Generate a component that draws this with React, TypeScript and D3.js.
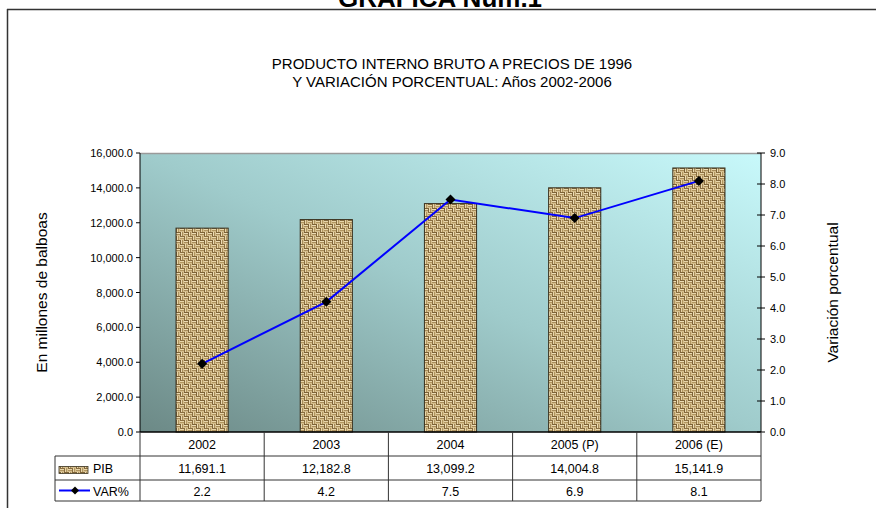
import React from "react";
import * as d3 from "d3";

const categories = ["2002", "2003", "2004", "2005 (P)", "2006 (E)"];
const pib = [11691.1, 12182.8, 13099.2, 14004.8, 15141.9];
const varPct = [2.2, 4.2, 7.5, 6.9, 8.1];
const leftTicks = [0, 2000, 4000, 6000, 8000, 10000, 12000, 14000, 16000];
const rightTicks = [0, 1, 2, 3, 4, 5, 6, 7, 8, 9];

const W = 876;
const H = 508;
const PL = 140, PR = 761, PT = 153, PB = 432;
const FONT = "Liberation Sans, Arial, sans-serif";

export default function App() {
  const x = d3.scaleBand<string>().domain(categories).range([PL, PR]).paddingInner(0).paddingOuter(0);
  const yL = d3.scaleLinear().domain([0, 16000]).range([PB, PT]);
  const yR = d3.scaleLinear().domain([0, 9]).range([PB, PT]);
  const fmtL = d3.format(",.1f");
  const fmtR = d3.format(".1f");
  const bw = x.bandwidth() * 0.42;
  const line = d3
    .line<number>()
    .x((_, i) => (x(categories[i]) as number) + x.bandwidth() / 2)
    .y((d) => yR(d));

  const rowHeader = [PB, 456];
  const rowPib = [456, 480];
  const rowVar = [480, 501];
  const TL = 55;

  const diamond = (cx: number, cy: number, r: number) =>
    `M${cx},${cy - r}L${cx + r},${cy}L${cx},${cy + r}L${cx - r},${cy}Z`;

  return (
    <svg width={W} height={H} style={{ position: "absolute", left: 0, top: 0, background: "#fff" }}>
      <defs>
        <linearGradient id="bg" x1="0" y1="1" x2="1" y2="0">
          <stop offset="0%" stopColor="#6c8986" />
          <stop offset="50%" stopColor="#9fcbcb" />
          <stop offset="100%" stopColor="#c8f9fb" />
        </linearGradient>
        <pattern id="burlap" width="8" height="8" patternUnits="userSpaceOnUse">
          <rect width="8" height="8" fill="#d6bf8e" />
          <rect x="0" y="0" width="4" height="1" fill="#7d6236" />
          <rect x="0" y="2" width="4" height="1" fill="#a88c5a" />
          <rect x="0" y="1" width="4" height="1" fill="#ecdcb4" />
          <rect x="4" y="0" width="1" height="4" fill="#7d6236" />
          <rect x="6" y="0" width="1" height="4" fill="#a88c5a" />
          <rect x="5" y="0" width="1" height="4" fill="#ecdcb4" />
          <rect x="0" y="4" width="1" height="4" fill="#8a6e40" />
          <rect x="2" y="4" width="1" height="4" fill="#b29660" />
          <rect x="1" y="4" width="1" height="4" fill="#e8d6aa" />
          <rect x="4" y="4" width="4" height="1" fill="#8a6e40" />
          <rect x="4" y="6" width="4" height="1" fill="#b29660" />
          <rect x="4" y="5" width="4" height="1" fill="#e8d6aa" />
        </pattern>
      </defs>

      {/* frame */}
      <text x={440} y={7} textAnchor="middle" fontFamily={FONT} fontWeight="bold" fontSize={26}>
        GRAFICA Núm.1
      </text>
      <line x1={7} y1={9.5} x2={W} y2={9.5} stroke="#333" strokeWidth={1.5} />
      <line x1={7.5} y1={9} x2={7.5} y2={H} stroke="#333" strokeWidth={1.5} />

      {/* title */}
      <text x={452} y={69} textAnchor="middle" fontFamily={FONT} fontSize={15}>
        PRODUCTO INTERNO BRUTO A PRECIOS DE 1996
      </text>
      <text x={452} y={87} textAnchor="middle" fontFamily={FONT} fontSize={15}>
        Y VARIACIÓN PORCENTUAL: Años 2002-2006
      </text>

      {/* plot area */}
      <rect x={PL} y={PT} width={PR - PL} height={PB - PT} fill="url(#bg)" />
      <line x1={PL} y1={PT + 0.5} x2={PR} y2={PT + 0.5} stroke="#9a9a9a" strokeWidth={1.5} />

      {/* bars */}
      {categories.map((c, i) => {
        const cx = (x(c) as number) + x.bandwidth() / 2;
        return (
          <rect
            key={c}
            x={cx - bw / 2}
            y={yL(pib[i])}
            width={bw}
            height={PB - yL(pib[i])}
            fill="url(#burlap)"
            stroke="#3a3220"
            strokeWidth={1}
          />
        );
      })}

      {/* line */}
      <path d={line(varPct) || ""} fill="none" stroke="#0000ff" strokeWidth={2} />
      {varPct.map((v, i) => {
        const cx = (x(categories[i]) as number) + x.bandwidth() / 2;
        return <path key={i} d={diamond(cx, yR(v), 5)} fill="#000" />;
      })}

      {/* left axis */}
      <line x1={PL} y1={PT} x2={PL} y2={PB} stroke="#000" strokeWidth={1} />
      {leftTicks.map((t) => (
        <g key={t}>
          <line x1={PL - 4} y1={yL(t)} x2={PL} y2={yL(t)} stroke="#000" />
          <text x={PL - 7} y={yL(t) + 4} textAnchor="end" fontFamily={FONT} fontSize={11}>
            {fmtL(t)}
          </text>
        </g>
      ))}
      {/* right axis */}
      <line x1={PR} y1={PT} x2={PR} y2={PB} stroke="#000" strokeWidth={1} />
      {rightTicks.map((t) => (
        <g key={t}>
          <line x1={PR - 4} y1={yR(t)} x2={PR + 4} y2={yR(t)} stroke="#000" />
          <text x={PR + 9} y={yR(t) + 4} textAnchor="start" fontFamily={FONT} fontSize={11}>
            {fmtR(t)}
          </text>
        </g>
      ))}

      {/* axis titles */}
      <text
        transform={`translate(47,${(PT + PB) / 2}) rotate(-90)`}
        textAnchor="middle"
        fontFamily={FONT}
        fontSize={15.5}
      >
        En millones de balboas
      </text>
      <text
        transform={`translate(838,${(PT + PB) / 2}) rotate(-90)`}
        textAnchor="middle"
        fontFamily={FONT}
        fontSize={15.5}
      >
        Variación porcentual
      </text>

      {/* data table */}
      <g fontFamily={FONT} fontSize={12.5}>
        <line x1={PL} y1={PB} x2={PR} y2={PB} stroke="#000" strokeWidth={1.5} />
        <line x1={TL} y1={rowPib[0]} x2={PR} y2={rowPib[0]} stroke="#333" />
        <line x1={TL} y1={rowVar[0]} x2={PR} y2={rowVar[0]} stroke="#333" />
        <line x1={TL} y1={rowVar[1]} x2={PR} y2={rowVar[1]} stroke="#333" />
        <line x1={TL} y1={rowPib[0]} x2={TL} y2={rowVar[1]} stroke="#333" />
        {categories.map((c) => (
          <line key={c} x1={x(c)} y1={rowHeader[0]} x2={x(c)} y2={rowVar[1]} stroke="#333" />
        ))}
        <line x1={PR} y1={rowHeader[0]} x2={PR} y2={rowVar[1]} stroke="#333" />
        {categories.map((c, i) => {
          const cx = (x(c) as number) + x.bandwidth() / 2;
          return (
            <g key={c}>
              <text x={cx} y={rowHeader[1] - 7} textAnchor="middle">{c}</text>
              <text x={cx} y={rowPib[1] - 7} textAnchor="middle">{fmtL(pib[i])}</text>
              <text x={cx} y={rowVar[1] - 5} textAnchor="middle">{fmtR(varPct[i])}</text>
            </g>
          );
        })}
        {/* legend */}
        <rect x={59} y={466.5} width={29} height={7} fill="url(#burlap)" stroke="#3a3220" strokeWidth={0.8} />
        <text x={93} y={rowPib[1] - 7}>PIB</text>
        <line x1={59} y1={490.5} x2={90} y2={490.5} stroke="#0000ff" strokeWidth={2} />
        <path d={diamond(75, 490.5, 4)} fill="#000" />
        <text x={93} y={rowVar[1] - 5}>VAR%</text>
      </g>
    </svg>
  );
}
